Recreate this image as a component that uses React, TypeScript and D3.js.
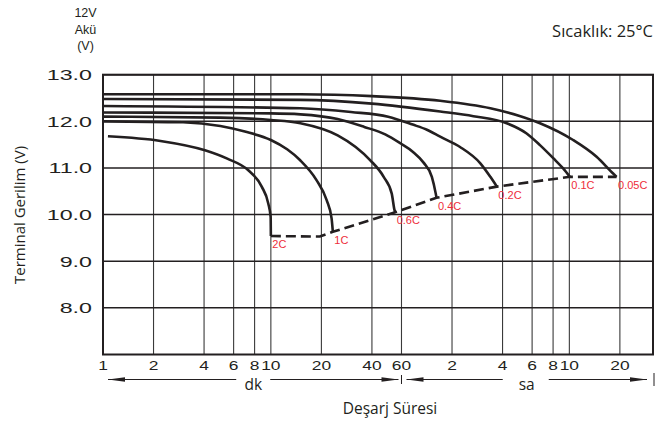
import React from 'react';
import * as d3 from 'd3';

// x axis ticks in minutes, with their printed labels
const timeTicks = [1, 2, 4, 6, 8, 10, 20, 40, 60, 120, 240, 360, 480, 600, 1200];
const timeLabels = ['1', '2', '4', '6', '8', '10', '20', '40', '60', '2', '4', '6', '8', '10', '20'];
const voltTicks = [8, 9, 10, 11, 12, 13];
const voltLabels = ['8.0', '9.0', '10.0', '11.0', '12.0', '13.0'];

// discharge curves: [minutes, volts]
const curve2C = [[1.07, 11.68], [2.2, 11.58], [4.05, 11.38], [5.5, 11.2], [7.34, 10.95], [8.82, 10.6], [9.65, 10.24], [9.97, 9.95], [10.0, 9.54]];
const curve1C = [[1, 12.0], [3, 11.98], [5, 11.9], [7, 11.78], [10, 11.6], [12.5, 11.4], [14.9, 11.17], [18.7, 10.74], [21.5, 10.31], [23.0, 9.92], [23.4, 9.63]];
const curve06C = [[1, 12.1], [5, 12.08], [10, 12.03], [15, 11.96], [25, 11.7], [32, 11.45], [39, 11.17], [47, 10.81], [52.5, 10.45], [54.5, 10.1], [55, 10.05]];
const curve04C = [[1, 12.19], [10, 12.17], [15, 12.15], [25, 12.05], [36, 11.88], [48, 11.72], [59, 11.53], [70, 11.35], [81, 11.12], [91, 10.81], [96, 10.45], [97, 10.36]];
const curve02C = [[1, 12.33], [15, 12.28], [30, 12.2], [50, 12.1], [70, 11.93], [85, 11.82], [102, 11.67], [134, 11.45], [177, 11.1], [203, 10.81], [222, 10.6]];
const curve01C = [[1, 12.48], [15, 12.46], [40, 12.38], [102, 12.21], [161, 12.11], [254, 11.96], [334, 11.74], [401, 11.49], [481, 11.21], [551, 10.99], [604, 10.81]];
const curve005C = [[1, 12.58], [15, 12.58], [40, 12.54], [102, 12.44], [203, 12.28], [300, 12.12], [401, 11.96], [632, 11.6], [872, 11.24], [1094, 10.88], [1147, 10.81]];
const endLine = [[10.0, 9.54], [19.6, 9.53], [23.4, 9.63], [55, 10.05], [97, 10.36], [222, 10.6], [604, 10.81], [1147, 10.81]];

const curves = [curve2C, curve1C, curve06C, curve04C, curve02C, curve01C, curve005C];
const rateLabels = ['2C', '1C', '0.6C', '0.4C', '0.2C', '0.1C', '0.05C'];

const INK = '#231f20';
const RED = '#ee2d3a';
const SANS = "'Liberation Sans', Arial, sans-serif";
const HUM = "'Open Sans', 'Noto Sans', sans-serif";

export default function App() {
  const x = d3.scaleLog().domain([1, 1890]).range([103, 653]);
  const y = d3.scaleLinear().domain([7, 13]).range([354.5, 74.7]);
  const line = d3.line<number[]>().x(d => x(d[0])).y(d => y(d[1])).curve(d3.curveMonotoneX);
  const straight = d3.line<number[]>().x(d => x(d[0])).y(d => y(d[1]));
  const [x0, x1] = x.range();
  const [y0, y1] = y.range();
  const ay = 379.5;
  const x60 = x(60);

  const arrowL = (px: number) => `M${px},${ay}L${px + 17},${ay - 2.3}L${px + 17},${ay + 2.3}Z`;
  const arrowR = (px: number) => `M${px},${ay}L${px - 17},${ay - 2.3}L${px - 17},${ay + 2.3}Z`;
  const dkC = (x0 + 5 + x60 - 3) / 2;
  const saC = (x60 + 5 + x1 - 6) / 2;

  return (
    <svg width={656} height={425} style={{ position: 'absolute', left: 0, top: 0, background: '#fff' }}>
      {/* vertical grid */}
      {timeTicks.map((t, i) => (
        <line key={'v' + i} x1={x(t)} x2={x(t)} y1={y1} y2={y0} stroke="#3a3a3a" strokeWidth={1.1} />
      ))}
      {/* horizontal grid */}
      {voltTicks.map((v, i) => (
        <line key={'h' + i} x1={x0} x2={x1} y1={y(v)} y2={y(v)} stroke={INK} strokeWidth={1.5} />
      ))}
      <rect x={x0} y={y1} width={x1 - x0} height={y0 - y1} fill="none" stroke={INK} strokeWidth={2} />

      {/* y tick labels */}
      {voltTicks.map((v, i) => (
        <g key={'yl' + i} transform={`translate(92,${y(v) + 5.5}) scale(1.55,1)`}>
          <text textAnchor="end" fontFamily={SANS} fontSize={15} fill={INK}>{voltLabels[i]}</text>
        </g>
      ))}
      {/* x tick labels */}
      {timeTicks.map((t, i) => (
        <g key={'xl' + i} transform={`translate(${x(t)},370) scale(1.45,1)`}>
          <text textAnchor="middle" fontFamily={SANS} fontSize={12} fill={INK}>{timeLabels[i]}</text>
        </g>
      ))}

      {/* curves */}
      {curves.map((c, i) => (
        <path key={'c' + i} d={line(c) || ''} fill="none" stroke={INK} strokeWidth={2.6} />
      ))}
      <path d={straight(endLine) || ''} fill="none" stroke={INK} strokeWidth={2.6} strokeDasharray="10,5" />
      {curves.map((c, i) => {
        const e = c[c.length - 1];
        return (
          <text key={'rl' + i} x={x(e[0]) + 1.5} y={y(e[1]) + 12} fontFamily={SANS} fontSize={11} fill={RED}>{rateLabels[i]}</text>
        );
      })}

      {/* time unit arrows */}
      <line x1={x0 + 5} x2={dkC - 17} y1={ay} y2={ay} stroke={INK} strokeWidth={1} />
      <line x1={dkC + 17} x2={x60 - 3} y1={ay} y2={ay} stroke={INK} strokeWidth={1} />
      <path d={arrowL(x0 + 5)} fill={INK} />
      <path d={arrowR(x60 - 3)} fill={INK} />
      <line x1={x60} x2={x60} y1={375} y2={384} stroke={INK} strokeWidth={1} />
      <text x={dkC} y={389.5} textAnchor="middle" fontFamily={HUM} fontSize={15.5} fill={INK}>dk</text>

      <line x1={x60 + 5} x2={saC - 24} y1={ay} y2={ay} stroke={INK} strokeWidth={1} />
      <line x1={saC + 22} x2={x1 - 6} y1={ay} y2={ay} stroke={INK} strokeWidth={1} />
      <path d={arrowL(x60 + 5)} fill={INK} />
      <path d={arrowR(x1 - 6)} fill={INK} />
      <line x1={x1 + 1} x2={x1 + 1} y1={373} y2={386} stroke={INK} strokeWidth={1} />
      <text x={saC} y={389.5} textAnchor="middle" fontFamily={HUM} fontSize={15.5} fill={INK}>sa</text>

      {/* titles */}
      <text x={390} y={414} textAnchor="middle" fontFamily={HUM} fontSize={15.5} fill={INK}>Deşarj Süresi</text>
      <text transform="translate(25,215) rotate(-90)" textAnchor="middle" fontFamily={HUM} fontSize={15} fill={INK}>Terminal Gerilim (V)</text>
      <text x={653} y={37} textAnchor="end" fontFamily={HUM} fontSize={16.5} fill={INK}>Sıcaklık: 25°C</text>
      <text x={85.5} y={17} textAnchor="middle" fontFamily={SANS} fontSize={12.5} fill={INK}>12V</text>
      <text x={85.5} y={33.5} textAnchor="middle" fontFamily={SANS} fontSize={12.5} fill={INK}>Akü</text>
      <text x={85.5} y={50} textAnchor="middle" fontFamily={SANS} fontSize={12.5} fill={INK}>(V)</text>
    </svg>
  );
}
